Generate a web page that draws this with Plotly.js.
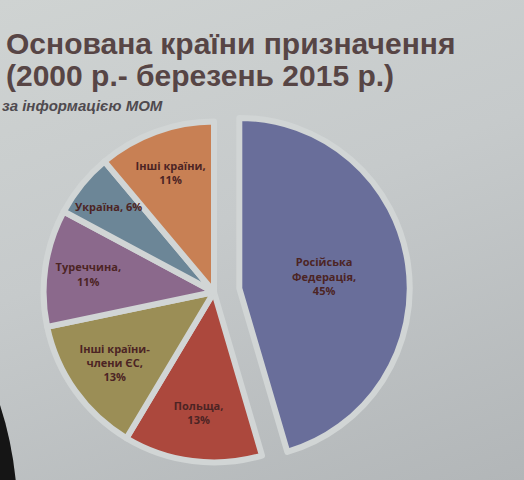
<!DOCTYPE html>
<html>
<head>
<meta charset="utf-8">
<script src="https://cdn.plot.ly/plotly-3.0.1.min.js"></script>
<style>
  html, body { margin: 0; padding: 0; }
  body { width: 524px; height: 480px; overflow: hidden;
         background: linear-gradient(160deg, #cfd3d2 0%, #c6cacb 45%, #b2b6b8 100%); }
  #chart { width: 524px; height: 500px; }
</style>
</head>
<body>
<div id="chart"></div>
<script>
// Data
const countries = ["Російська Федерація", "Польща", "Інші країни-члени ЄС", "Туреччина", "Україна", "Інші країни"];
const labelLines = ["Російська<br>Федерація,", "Польща,", "Інші країни-<br>члени ЄС,", "Туреччина,", "Україна,", "Інші країни,"];
const shares = [45, 13, 13, 11, 6, 11];
const pulls = [0.15, 0, 0, 0, 0, 0];
const sliceColors = ["#696e9a", "#ac483d", "#9b8e56", "#8b698c", "#6c8697", "#c88054"];

const titleLine1 = "Основана країни призначення";
const titleLine2 = "(2000 р.- березень 2015 р.)";
const sourceNote = "за інформацією МОМ";

// Label of the small slice is drawn as a one-line note so it is not shrunk
const smallSlice = 4;

const W = 524, H = 500;
const dom = { x: [18 / W, 410 / W], y: [1 - 488 / H, 1 - 96 / H] };

const sliceText = countries.map((c, i) =>
  i === smallSlice ? "" : labelLines[i] + "<br>" + shares[i] + "%");

const labelFont = { family: "Open Sans, Noto Sans, sans-serif", size: 11, color: "#4c2424", weight: "bold" };

const trace = {
  type: "pie",
  labels: countries,
  values: shares,
  text: sliceText,
  textinfo: "text",
  textposition: "inside",
  insidetextorientation: "horizontal",
  insidetextfont: labelFont,
  sort: false,
  direction: "clockwise",
  rotation: 0,
  pull: pulls,
  marker: { colors: sliceColors, line: { color: "#d1d5d5", width: 6 } },
  domain: dom,
  hoverinfo: "none",
  showlegend: false
};

// position of the small slice's note, from the pie geometry
const total = shares.reduce((a, b) => a + b, 0);
const before = shares.slice(0, smallSlice).reduce((a, b) => a + b, 0);
const mid = (before + shares[smallSlice] / 2) / total * 2 * Math.PI;
const boxW = (dom.x[1] - dom.x[0]) * W, boxH = (dom.y[1] - dom.y[0]) * H;
const rad = Math.min(boxW, boxH) / (2 + 2 * Math.max(...pulls));
const cx = (dom.x[0] + dom.x[1]) / 2 * W;
const cy = (1 - (dom.y[0] + dom.y[1]) / 2) * H;
const lx = cx + 0.8 * rad * Math.sin(mid);
const ly = cy - 0.8 * rad * Math.cos(mid);

const layout = {
  width: W, height: H,
  margin: { l: 0, r: 0, t: 0, b: 0 },
  paper_bgcolor: "rgba(0,0,0,0)",
  plot_bgcolor: "rgba(0,0,0,0)",
  showlegend: false,
  annotations: [
    { text: "<b>" + titleLine1 + "</b>", xref: "paper", yref: "paper", x: 4 / W, y: 1 - 62 / H,
      xanchor: "left", yanchor: "bottom", showarrow: false,
      font: { family: "Liberation Sans, Arial, sans-serif", size: 30, color: "#574545" } },
    { text: "<b>" + titleLine2 + "</b>", xref: "paper", yref: "paper", x: 4 / W, y: 1 - 94 / H,
      xanchor: "left", yanchor: "bottom", showarrow: false,
      font: { family: "Liberation Sans, Arial, sans-serif", size: 30, color: "#574545" } },
    { text: "<b><i>" + sourceNote + "</i></b>", xref: "paper", yref: "paper", x: 0, y: 1 - 116 / H,
      xanchor: "left", yanchor: "bottom", showarrow: false,
      font: { family: "Liberation Sans, Arial, sans-serif", size: 15, color: "#4f4a4f" } },
    { text: "<b>" + labelLines[smallSlice] + " " + shares[smallSlice] + "%</b>", xref: "paper", yref: "paper",
      x: lx / W, y: 1 - ly / H, xanchor: "center", yanchor: "middle", showarrow: false,
      font: labelFont }
  ],
  shapes: [
    { type: "path", xref: "paper", yref: "paper", layer: "above",
      path: "M 0 " + (1 - 405 / H) + " Q 0.022 " + (1 - 440 / H) + " 0.03 " + (1 - 480 / H) + " L 0.03 0 L 0 0 Z",
      fillcolor: "#151515", line: { width: 0 } }
  ]
};

Plotly.newPlot("chart", [trace], layout, { displayModeBar: false, staticPlot: true });
</script>
</body>
</html>
